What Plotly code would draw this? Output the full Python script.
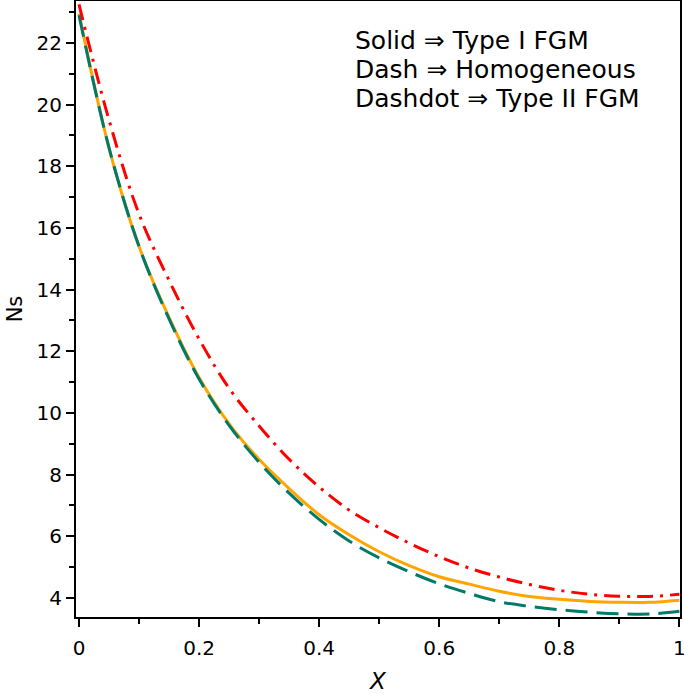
import plotly.graph_objects as go

x_vals = [0.0, 0.05, 0.1, 0.15, 0.2, 0.25, 0.3, 0.35, 0.4, 0.45, 0.5,
          0.55, 0.6, 0.65, 0.7, 0.75, 0.8, 0.85, 0.9, 0.95, 1.0]
type1_fgm = [22.95, 18.6, 15.4, 13.1, 11.15, 9.65, 8.5, 7.55, 6.7, 6.05, 5.5,
             5.05, 4.69, 4.45, 4.22, 4.05, 3.96, 3.89, 3.86, 3.86, 3.93]
homogeneous = [22.9, 18.6, 15.4, 13.05, 11.1, 9.6, 8.4, 7.4, 6.55, 5.85, 5.3,
               4.85, 4.46, 4.15, 3.88, 3.73, 3.62, 3.54, 3.49, 3.48, 3.57]
type2_fgm = [23.25, 19.5, 16.45, 14.3, 12.4, 10.8, 9.58, 8.5, 7.6, 6.85, 6.28,
             5.78, 5.34, 4.97, 4.68, 4.44, 4.25, 4.12, 4.06, 4.05, 4.12]

legend_lines = ["Solid \u21d2 Type I FGM", "Dash \u21d2 Homogeneous", "Dashdot \u21d2 Type II FGM"]
x_ticks = [0, 0.2, 0.4, 0.6, 0.8, 1]
x_tick_text = ["0", "0.2", "0.4", "0.6", "0.8", "1"]
y_ticks = [4, 6, 8, 10, 12, 14, 16, 18, 20, 22]

FONT = "DejaVu Sans, Liberation Sans, Arial, sans-serif"

fig = go.Figure()
fig.add_trace(go.Scatter(x=x_vals, y=type1_fgm, mode="lines", line_shape="spline",
                         line=dict(color="#FFA500", width=3), name="Type I FGM"))
fig.add_trace(go.Scatter(x=x_vals, y=homogeneous, mode="lines", line_shape="spline",
                         line=dict(color="#007A68", width=3, dash="22px,9px"), name="Homogeneous"))
fig.add_trace(go.Scatter(x=x_vals, y=type2_fgm, mode="lines", line_shape="spline",
                         line=dict(color="#FF0000", width=3, dash="16px,7px,3px,7px"), name="Type II FGM"))

ys = [0.936, 0.889, 0.842]
for txt, yy in zip(legend_lines, ys):
    fig.add_annotation(x=0.459, y=yy, xref="paper", yref="paper", text=txt,
                       showarrow=False, xanchor="left", yanchor="middle",
                       font=dict(family=FONT, size=25, color="black"))

fig.update_layout(
    width=685, height=694,
    margin=dict(l=76, r=5, t=1, b=77, autoexpand=False),
    plot_bgcolor="white", paper_bgcolor="white",
    showlegend=False,
    font=dict(family=FONT, color="black"),
)
fig.update_xaxes(range=[-0.005, 1.001], tickvals=x_ticks, ticktext=x_tick_text,
                 automargin=False, ticklabeloverflow="allow",
                 ticks="outside", ticklen=8, tickwidth=2, tickcolor="black",
                 ticklabelstandoff=4,
                 showline=True, linecolor="black", linewidth=2, mirror=True,
                 showgrid=False, zeroline=False,
                 tickfont=dict(size=20, family=FONT),
                 minor=dict(dtick=0.1, tick0=0, ticks="outside", ticklen=5, tickwidth=2, tickcolor="black"),
                 title=dict(text="<i>X</i>", font=dict(size=23, family=FONT), standoff=18))
fig.update_yaxes(range=[3.384, 23.36], tickvals=y_ticks,
                 automargin=False,
                 ticks="outside", ticklen=8, tickwidth=2, tickcolor="black",
                 showline=True, linecolor="black", linewidth=2, mirror=True,
                 showgrid=False, zeroline=False,
                 tickfont=dict(size=20, family=FONT),
                 minor=dict(dtick=1, tick0=0, ticks="outside", ticklen=5, tickwidth=2, tickcolor="black"),
                 title=dict(text="Ns", font=dict(size=21, family=FONT), standoff=8))

fig.write_html("out.html", config={"displayModeBar": False},
               post_script="document.body.style.margin='0px';")
